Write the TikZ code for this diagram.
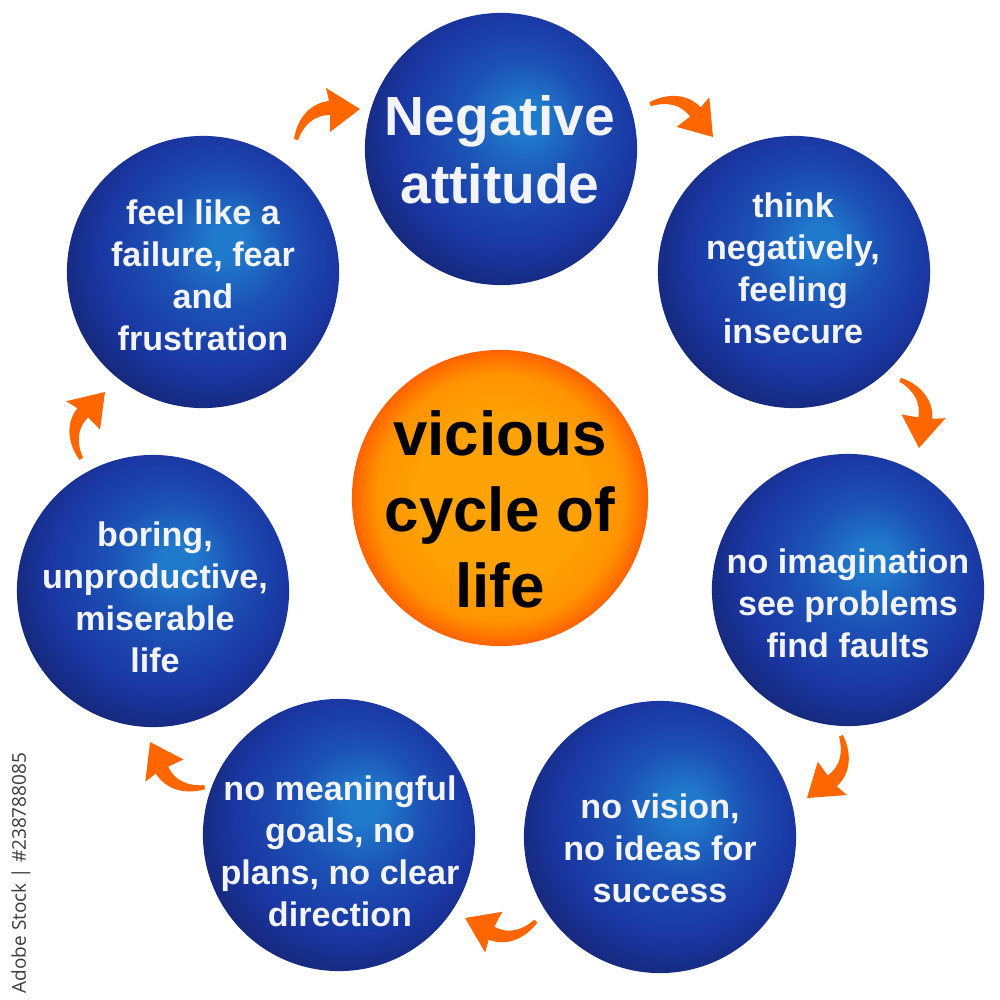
\documentclass[tikz,border=0pt]{standalone}
\usepackage{fontspec}
\setmainfont{Liberation Sans}
\newfontfamily\stockfont{Open Sans}
\definecolor{bl1}{RGB}{32,122,204}
\definecolor{bl2}{RGB}{28,80,180}
\definecolor{bl3}{RGB}{26,54,162}
\definecolor{bl4}{RGB}{20,38,115}
\definecolor{or1}{RGB}{255,162,6}
\definecolor{or2}{RGB}{255,146,0}
\definecolor{or3}{RGB}{255,98,0}
\definecolor{arrowc}{RGB}{255,102,0}
\definecolor{txtw}{RGB}{242,244,250}
\definecolor{stockgray}{RGB}{60,60,60}
\pgfdeclareradialshading{blueball}{\pgfpoint{5bp}{6bp}}{color(0bp)=(bl1); color(3bp)=(bl1); color(12bp)=(bl2); color(22bp)=(bl3); color(30bp)=(bl4); color(50bp)=(bl4)}
\pgfdeclareradialshading{orangeball}{\pgfpointorigin}{color(0bp)=(or1); color(14bp)=(or1); color(21bp)=(or2); color(25bp)=(or3); color(50bp)=(or3)}
\begin{document}
\begin{tikzpicture}[x=0.01cm,y=-0.01cm,
  ball/.style={circle,inner sep=0pt,minimum size=2.72cm,shade,shading=blueball},
  sun/.style={circle,inner sep=0pt,minimum size=2.96cm,shade,shading=orangeball},
  btxt/.style={text=txtw,align=center,inner sep=0pt,font=\bfseries\fontsize{9.7}{11.95}\selectfont},
  bigtxt/.style={text=txtw,align=center,inner sep=0pt,font=\bfseries\fontsize{15.7}{19.3}\selectfont},
  ctxt/.style={text=black,align=center,inner sep=0pt,font=\bfseries\fontsize{17.6}{21.6}\selectfont},
  curvarrow/.pic={\fill[arrowc] (0,0) -- (-34,-21) -- (-31,-8) .. controls (-50,-6) and (-63,10) .. (-66,30) -- (-62,31) .. controls (-56,15) and (-45,6) .. (-30,6) -- (-30,23) -- cycle;}]
\useasboundingbox[fill=white] (0,0) rectangle (1000,1000);
% circles
\node[ball] (neg) at (501,149) {};
\node[ball] (think) at (794,272) {};
\node[ball] (imag) at (848,590) {};
\node[ball] (vision) at (660,837) {};
\node[ball] (goals) at (339,835) {};
\node[ball] (boring) at (153,591) {};
\node[ball] (fail) at (203,272) {};
\node[sun] (center) at (500,498) {};
% texts
\node[bigtxt] (tneg) at (500,150) {Negative\\attitude};
\node[btxt] (tthink) at (793,268) {think\\negatively,\\feeling\\insecure};
\node[btxt] (timag) at (848,603) {no imagination\\see problems\\find faults};
\node[btxt] (tvision) at (660,848) {no vision,\\no ideas for\\success};
\node[btxt] (tgoals) at (340,851) {no meaningful\\goals, no\\plans, no clear\\direction};
\node[btxt] (tboring) at (155,597) {boring,\\unproductive,\\miserable\\life};
\node[btxt] (tfail) at (203,275) {feel like a\\failure, fear\\and\\frustration};
\node[ctxt] (tcenter) at (500,509) {vicious\\cycle of\\life};
% arrows
\path (360,109) pic {curvarrow};
\path (713,137) pic[rotate=-53] {curvarrow};
\path (919,448) pic[rotate=-100] {curvarrow};
\path (807,798) pic[rotate=-144] {curvarrow};
\path (465,918) pic[rotate=152] {curvarrow};
\path (150,742) pic[rotate=115] {curvarrow};
\path (105,392) pic[rotate=45] {curvarrow};
% side credit
\node[rotate=90,text=stockgray,inner sep=0pt,font=\stockfont\fontsize{5.4}{6}\selectfont] (credit) at (21,873) {Adobe Stock | \#238788085};
\end{tikzpicture}
\end{document}
